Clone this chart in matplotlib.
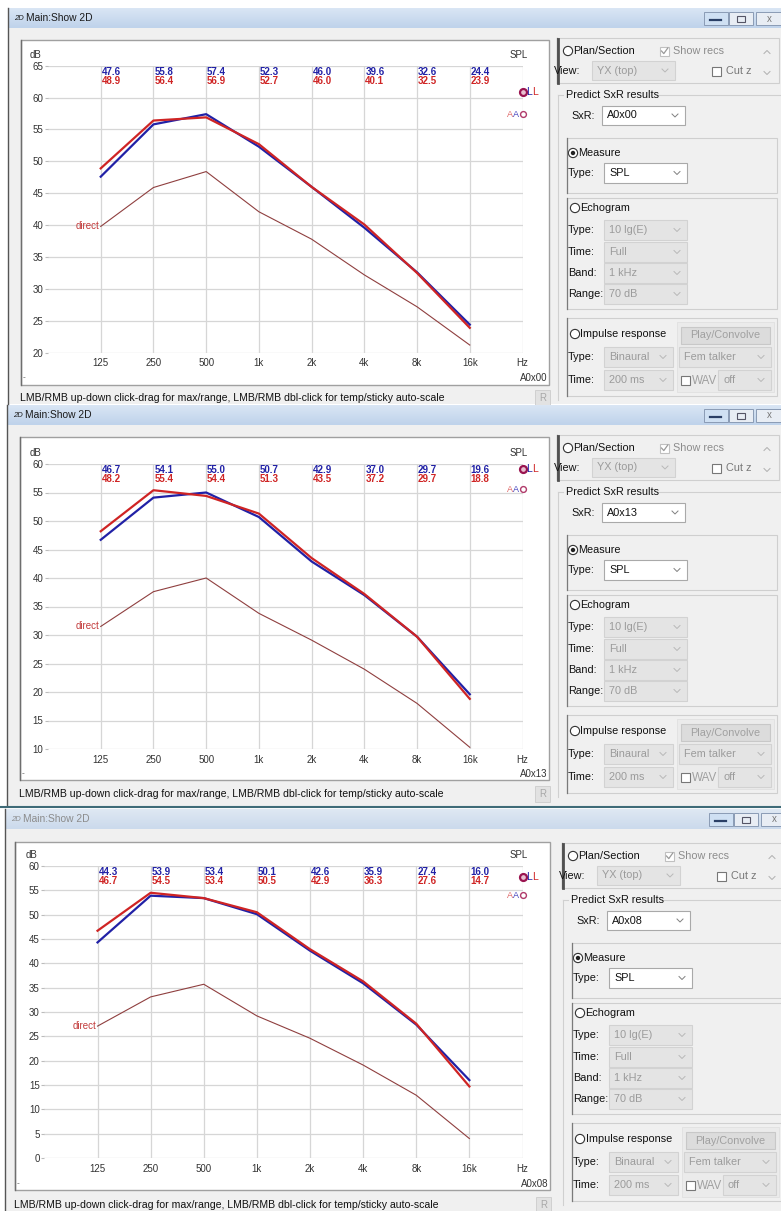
import matplotlib
matplotlib.use('Agg')
import numpy as np
import matplotlib.pyplot as plt
from matplotlib.patches import Rectangle, Circle
from matplotlib.colors import LinearSegmentedColormap
from matplotlib.ticker import NullLocator

plt.rcParams['font.family'] = ['Liberation Sans', 'DejaVu Sans']

W, H = 781, 1211

# octave bands and the tick row under each chart
bands = [125, 250, 500, 1000, 2000, 4000, 8000, 16000]
tick_freqs = bands + [32000]
tick_names = ['125', '250', '500', '1k', '2k', '4k', '8k', '16k', 'Hz']

receivers = ['A0x00', 'A0x13', 'A0x08']

# predicted SPL per band: left ear (blue), right ear (red), direct sound
spl_l_a0x00 = [47.6, 55.8, 57.4, 52.3, 46.0, 39.6, 32.6, 24.4]
spl_r_a0x00 = [48.9, 56.4, 56.9, 52.7, 46.0, 40.1, 32.5, 23.9]
direct_a0x00 = [39.8, 45.9, 48.4, 42.1, 37.8, 32.2, 27.2, 21.2]

spl_l_a0x13 = [46.7, 54.1, 55.0, 50.7, 42.9, 37.0, 29.7, 19.6]
spl_r_a0x13 = [48.2, 55.4, 54.4, 51.3, 43.5, 37.2, 29.7, 18.8]
direct_a0x13 = [31.5, 37.6, 40.0, 33.8, 29.1, 24.0, 18.0, 10.3]

spl_l_a0x08 = [44.3, 53.9, 53.4, 50.1, 42.6, 35.9, 27.4, 16.0]
spl_r_a0x08 = [46.7, 54.5, 53.4, 50.5, 42.9, 36.3, 27.6, 14.7]
direct_a0x08 = [27.1, 33.1, 35.7, 29.2, 24.6, 19.1, 12.9, 4.0]

# broadband markers in the Hz column (linear L and A-weighted)
ll_level = [60.9, 59.2, 57.7]
aa_level = [57.4, 55.6, 54.0]

y_limits = [(20, 65), (10, 60), (0, 60)]

echo_rows = [('Type:', '10 lg(E)'), ('Time:', 'Full'), ('Band:', '1 kHz'), ('Range:', '70 dB')]

BLUE = '#2121a6'
RED = '#cf2424'
UI = 7.8
CH = 7.0

# window geometry, pixels from the top left
windows = [
    dict(top=8, left=8, bottom=404, box=(21, 40, 549, 385), axes=(48, 65.7, 522.5, 352.7),
         status=398, tag=378, dx=0, dy=0, active=True),
    dict(top=405, left=7, bottom=806, box=(20, 437, 549, 780), axes=(48, 464, 522.5, 749),
         status=794, tag=774, dx=0, dy=397, active=True),
    dict(top=809, left=5, bottom=1211, box=(15, 842, 550, 1190), axes=(44.4, 866, 522.5, 1158),
         status=1205, tag=1184, dx=5, dy=805, active=False),
]

fig = plt.figure(figsize=(W / 100, H / 100), dpi=100)
fig.patch.set_facecolor('white')
bg = fig.add_axes([0, 0, 1, 1])
bg.set_axis_off()

title_cmap = LinearSegmentedColormap.from_list('title', ['#d9e5f4', '#bfd3eb'])


def chevron(x, y, up=False, color='#a0a0a0'):
    s = -1 if up else 1
    bg.plot([x - 3, x, x + 3], [y - 1.5 * s, y + 1.5 * s, y - 1.5 * s], color=color, lw=0.7)


def combo(x0, y0, x1, y1, text, enabled=True):
    fc = 'white' if enabled else '#e4e4e4'
    ec = '#a9a9a9' if enabled else '#d2d2d2'
    bg.add_patch(Rectangle((x0, y0), x1 - x0, y1 - y0, fc=fc, ec=ec, lw=0.8))
    bg.text(x0 + 5, (y0 + y1) / 2, text, fontsize=UI, va='center',
            color='#111111' if enabled else '#9b9b9b')
    chevron(x1 - 10, (y0 + y1) / 2, color='#808080' if enabled else '#b8b8b8')


def radio(x, y, label, checked=False):
    bg.add_patch(Circle((x, y), 4.6, fc='white', ec='#333333', lw=0.8))
    if checked:
        bg.add_patch(Circle((x, y), 2.2, fc='#222222', ec='none'))
    bg.text(x + 5.5, y, label, fontsize=UI, va='center', color='#111111')


def checkbox(x, y, checked=False, enabled=True):
    bg.add_patch(Rectangle((x, y - 4.5), 9, 9, fc='white',
                           ec='#777777' if enabled else '#c0c0c0', lw=0.8))
    if checked:
        bg.plot([x + 1.5, x + 3.8, x + 7.8], [y, y + 2.6, y - 3], color='#9a9a9a', lw=0.9)


def group(x0, y0, x1, y1):
    bg.add_patch(Rectangle((x0, y0), x1 - x0, y1 - y0, fc='none', ec='#cfcfcf', lw=0.8))
    bg.plot([x0, x0], [y0, y1], color='#7a7a7a', lw=0.9)


def controls(dx, dy, sxr):
    def p(x, y):
        return x + dx, y + dy

    # Plan/Section strip
    x, y = p(557, 38)
    group(x, y, x + 222, y + 45)
    bg.plot([x + 1, x + 1], [y + 1, y + 45], color='#505050', lw=2)
    radio(*p(568, 51), 'Plan/Section')
    checkbox(*p(660, 51), checked=True, enabled=False)
    bg.text(*p(673, 51), 'Show recs', fontsize=UI, va='center', color='#8c8c8c')
    chevron(*p(767, 52), up=True, color='#b0b0b0')
    bg.text(*p(554, 71), 'View:', fontsize=UI, va='center', color='#111111')
    combo(*p(592, 61), *p(675, 80), 'YX (top)', enabled=False)
    checkbox(*p(712, 71), enabled=True)
    bg.text(*p(726, 71), 'Cut z', fontsize=UI, va='center', color='#777777')
    chevron(*p(767, 73), color='#b0b0b0')

    # Predict SxR results frame
    x, y = p(558, 95)
    bg.plot([x, x + 5], [y, y], color='#d0d0d0', lw=0.8)
    bg.plot([x + 100, W], [y, y], color='#d0d0d0', lw=0.8)
    bg.plot([x, x], [y, y + 305], color='#d0d0d0', lw=0.8)
    bg.text(*p(566, 95), 'Predict SxR results', fontsize=UI, va='center', color='#111111')
    bg.text(*p(571, 116), 'SxR:', fontsize=UI, va='center', color='#111111')
    combo(*p(602, 106), *p(685, 125), sxr)

    # Measure
    group(*p(567, 138), *p(777, 193))
    radio(*p(573, 153), 'Measure', checked=True)
    bg.text(*p(568, 173), 'Type:', fontsize=UI, va='center', color='#111111')
    combo(*p(604, 163), *p(687, 183), 'SPL')

    # Echogram
    group(*p(567, 198), *p(777, 309))
    radio(*p(575, 208), 'Echogram')
    for (label, value), yy in zip(echo_rows, [230, 252, 273, 294]):
        bg.text(*p(568, yy), label, fontsize=UI, va='center', color='#111111')
        combo(*p(604, yy - 10), *p(687, yy + 10), value, enabled=False)

    # Impulse response
    group(*p(567, 318), *p(777, 396))
    x, y = p(677, 322)
    bg.add_patch(Rectangle((x, y), 97, 70, fc='#ebebeb', ec='#e0e0e0', lw=0.6))
    radio(*p(575, 334), 'Impulse response')
    x, y = p(681, 327)
    bg.add_patch(Rectangle((x, y), 89, 17, fc='#dcdcdc', ec='#c8c8c8', lw=0.8))
    bg.text(x + 44.5, y + 8.5, 'Play/Convolve', fontsize=UI, ha='center', va='center', color='#a0a0a0')
    bg.text(*p(568, 357), 'Type:', fontsize=UI, va='center', color='#111111')
    combo(*p(604, 347), *p(673, 367), 'Binaural', enabled=False)
    combo(*p(679, 347), *p(771, 367), 'Fem talker', enabled=False)
    bg.text(*p(568, 380), 'Time:', fontsize=UI, va='center', color='#111111')
    combo(*p(604, 370), *p(673, 390), '200 ms', enabled=False)
    checkbox(*p(681, 380))
    bg.text(*p(692, 381), 'WAV', fontsize=UI + 0.6, va='center', color='#a0a0a0')
    combo(*p(718, 370), *p(771, 390), 'off', enabled=False)


def window(wd, sxr):
    top, left, bottom = wd['top'], wd['left'], wd['bottom']
    dx = wd['dx']
    bg.add_patch(Rectangle((left, top), W - left, bottom - top, fc='#f0f0f0', ec='none'))
    grad = np.linspace(0, 1, 20).reshape(-1, 1)
    bg.imshow(grad, extent=(left, W, top + 20, top), aspect='auto', cmap=title_cmap,
              alpha=1.0 if wd['active'] else 0.75, zorder=1)
    bg.plot([left, left], [top, bottom], color='#555555', lw=1, zorder=2)
    tcol = '#1b1b1b' if wd['active'] else '#8c8c8c'
    bg.text(left + 6, top + 10.5, '2D', fontsize=5.5, style='italic', va='center', color=tcol, zorder=3)
    bg.text(left + 18, top + 10, 'Main:Show 2D', fontsize=7.4, va='center', color=tcol, zorder=3)

    # caption buttons
    for i, x0 in enumerate([704, 729, 756]):
        x0 += dx
        fc = '#cfe0f3' if i == 0 else '#e8edf4'
        bg.add_patch(Rectangle((x0, top + 4), 24 if i < 2 else 26, 13, fc=fc, ec='#8a9bb5', lw=0.7, zorder=3))
    bg.plot([710 + dx, 721 + dx], [top + 12, top + 12], color='#2a3f66', lw=1.6, zorder=4)
    bg.add_patch(Rectangle((737 + dx, top + 8), 8, 6, fc='none', ec='#556', lw=0.8, zorder=4))
    bg.text(769 + dx, top + 10.5, 'x', fontsize=7, ha='center', va='center', color='#777777', zorder=4)

    # chart frame and status line
    x0, y0, x1, y1 = wd['box']
    bg.add_patch(Rectangle((x0, y0), x1 - x0, y1 - y0, fc='white', ec='#a0a0a0', lw=1))
    bg.plot([x0, x0], [y0, y1], color='#6e6e6e', lw=1)
    bg.text(x0 + 2, wd['tag'], '-', fontsize=6, va='center', color='#555555')
    bg.text(x1 - 2, wd['tag'], sxr, fontsize=CH, ha='right', va='center', color='#333333')
    bg.text(x0 - 1, wd['status'], 'LMB/RMB up-down click-drag for max/range, '
            'LMB/RMB dbl-click for temp/sticky auto-scale', fontsize=7.6, va='center', color='#111111')
    bg.add_patch(Rectangle((x1 - 14, wd['status'] - 8), 15, 16, fc='#e2e2e2', ec='#d0d0d0', lw=0.7))
    bg.text(x1 - 6.5, wd['status'], 'R', fontsize=7, ha='center', va='center', color='#a8a8a8')

    controls(dx, wd['dy'], sxr)


def chart(wd, ylim, left, right, direct, ll, aa):
    L, T, R, B = wd['axes']
    ax = fig.add_axes([L / W, 1 - B / H, (R - L) / W, (B - T) / H])
    ax.patch.set_alpha(0)
    ax.set_xscale('log', base=2)
    ax.set_xlim(62.5, 32000)
    ax.set_ylim(*ylim)
    ax.set_xticks(tick_freqs, tick_names)
    ax.xaxis.set_minor_locator(NullLocator())
    ax.set_yticks(np.arange(ylim[0], ylim[1] + 1, 5))
    ax.grid(True, color='#d6d6d6', lw=0.9)
    ax.set_axisbelow(True)
    for s in ax.spines.values():
        s.set_visible(False)
    ax.tick_params(axis='y', length=2.2, width=0.8, color='#bcbcbc', pad=1.2, labelsize=CH, labelcolor='#333333')
    ax.tick_params(axis='x', length=0, pad=4, labelsize=CH, labelcolor='#333333')

    ax.plot(bands, direct, color='#8f3f3f', lw=0.8)
    ax.plot(bands, left, color=BLUE, lw=1.6, solid_joinstyle='round')
    ax.plot(bands, right, color=RED, lw=1.6, solid_joinstyle='round')

    ax.annotate('direct', xy=(bands[0], direct[0]), xytext=(-1, 0), textcoords='offset pixels',
                ha='right', va='center', fontsize=CH, color='#c23a3a', annotation_clip=False)

    for f, a, b in zip(bands, left, right):
        for v, off, c in [(a, -6, BLUE), (b, -15, RED)]:
            ax.annotate(f'{v:.1f}', xy=(f, 1), xycoords=('data', 'axes fraction'), xytext=(1, off),
                        textcoords='offset pixels', ha='left', va='center', fontsize=CH,
                        fontweight='bold', color=c, annotation_clip=False)

    ax.annotate('dB', xy=(0, 1), xycoords='axes fraction', xytext=(-13, 11), textcoords='offset pixels',
                ha='center', va='center', fontsize=CH, color='#333333', annotation_clip=False)
    ax.annotate('SPL', xy=(1, 1), xycoords='axes fraction', xytext=(-4, 11), textcoords='offset pixels',
                ha='center', va='center', fontsize=CH, color='#333333', annotation_clip=False)

    # broadband markers
    ax.plot([tick_freqs[-1]], [ll], marker='o', ms=5, mfc='#e8c0d0', mec='#9a1450', mew=1.6, clip_on=False)
    ax.annotate('L', xy=(tick_freqs[-1], ll), xytext=(4, 0), textcoords='offset pixels', ha='left',
                va='center', fontsize=CH + 0.5, color=BLUE, annotation_clip=False)
    ax.annotate('L', xy=(tick_freqs[-1], ll), xytext=(9.5, 0), textcoords='offset pixels', ha='left',
                va='center', fontsize=CH + 0.5, color=RED, annotation_clip=False)
    ax.plot([tick_freqs[-1]], [aa], marker='o', ms=4.2, mfc='white', mec='#b03a6a', mew=1.0, clip_on=False)
    ax.annotate('A', xy=(tick_freqs[-1], aa), xytext=(-4, 0), textcoords='offset pixels', ha='right',
                va='center', fontsize=CH - 0.5, color='#4848c0', annotation_clip=False)
    ax.annotate('A', xy=(tick_freqs[-1], aa), xytext=(-9.5, 0), textcoords='offset pixels', ha='right',
                va='center', fontsize=CH - 0.5, color='#e06a6a', annotation_clip=False)
    return ax


series = [
    (spl_l_a0x00, spl_r_a0x00, direct_a0x00),
    (spl_l_a0x13, spl_r_a0x13, direct_a0x13),
    (spl_l_a0x08, spl_r_a0x08, direct_a0x08),
]

for i, wd in enumerate(windows):
    window(wd, receivers[i])
    left, right, direct = series[i]
    chart(wd, y_limits[i], left, right, direct, ll_level[i], aa_level[i])

# lower edge of the middle window
bg.plot([0, W], [807, 807], color='#3f6b78', lw=1.5)

bg.set_xlim(0, W)
bg.set_ylim(H, 0)
fig.savefig('out.png', dpi=100)
